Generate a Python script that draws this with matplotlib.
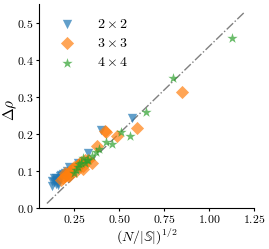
import matplotlib
matplotlib.use('Agg')
import matplotlib.pyplot as plt
import numpy as np

plt.rcParams['font.family'] = 'serif'
plt.rcParams['font.serif'] = ['cmr10']
plt.rcParams['mathtext.fontset'] = 'cm'
plt.rcParams['axes.formatter.use_mathtext'] = True

# 2x2
x2 = [0.13, 0.14, 0.15, 0.16, 0.14, 0.15, 0.17, 0.13, 0.16, 0.15, 0.18, 0.17,
      0.20, 0.22, 0.19, 0.21, 0.27, 0.33, 0.40, 0.57]
y2 = [0.060, 0.070, 0.075, 0.068, 0.080, 0.065, 0.078, 0.072, 0.062, 0.082, 0.088, 0.085,
      0.095, 0.110, 0.092, 0.100, 0.120, 0.148, 0.210, 0.243]
# 3x3
x3 = [0.18, 0.19, 0.20, 0.21, 0.20, 0.22, 0.23, 0.24, 0.22, 0.25, 0.26, 0.27,
      0.28, 0.30, 0.29, 0.31, 0.33, 0.30, 0.35, 0.38, 0.42, 0.43, 0.49, 0.60, 0.85]
y3 = [0.075, 0.080, 0.085, 0.090, 0.095, 0.092, 0.100, 0.105, 0.085, 0.110, 0.100, 0.115,
      0.118, 0.112, 0.125, 0.128, 0.130, 0.105, 0.122, 0.167, 0.208, 0.205, 0.195, 0.215, 0.312]
# 4x4
x4 = [0.25, 0.26, 0.27, 0.28, 0.29, 0.30, 0.31, 0.32, 0.33, 0.35, 0.37, 0.39,
      0.43, 0.46, 0.51, 0.56, 0.65, 0.80, 1.13]
y4 = [0.095, 0.102, 0.110, 0.118, 0.122, 0.135, 0.120, 0.128, 0.130, 0.140, 0.150, 0.160,
      0.178, 0.172, 0.205, 0.195, 0.258, 0.350, 0.457]

fig = plt.figure(figsize=(2.69, 2.49), dpi=100)
ax = fig.add_axes([0.145, 0.165, 0.799, 0.819])

ax.scatter(x2, y2, marker='v', s=45, color='#1f77b4', alpha=0.7, linewidths=0, label=r'$2\times2$')
ax.scatter(x3, y3, marker='D', s=45, color='#ff7f0e', alpha=0.7, linewidths=0, label=r'$3\times3$')
ax.scatter(x4, y4, marker='*', s=60, color='#2ca02c', alpha=0.7, linewidths=0, label=r'$4\times4$')

lx = np.array([0.1, 1.2])
ax.plot(lx, 0.47 * lx - 0.035, color='gray', ls='-.', lw=1, zorder=0)

ax.set_xlim(0.056, 1.25)
ax.set_ylim(0, 0.55)
ax.set_xticks([0.25, 0.5, 0.75, 1.0, 1.25])
ax.set_yticks([0, 0.1, 0.2, 0.3, 0.4, 0.5])
ax.tick_params(labelsize=8.5, length=2, pad=2)
ax.spines['top'].set_visible(False)
ax.spines['right'].set_visible(False)
ax.set_xlabel(r'$(N/|\mathbb{S}|)^{1/2}$', fontsize=10)
ax.set_ylabel(r'$\Delta\rho$', fontsize=11)
ax.xaxis.set_label_coords(0.5, -0.09, transform=ax.transAxes)
ax.yaxis.set_label_coords(-0.135, 0.48, transform=ax.transAxes)
ax.xaxis.label.set_va('top')
ax.yaxis.label.set_va('center')
ax.legend(loc='upper left', frameon=False, fontsize=10, handletextpad=1.2,
          borderaxespad=0.6, labelspacing=0.45)

fig.savefig('out.png', dpi=100)
